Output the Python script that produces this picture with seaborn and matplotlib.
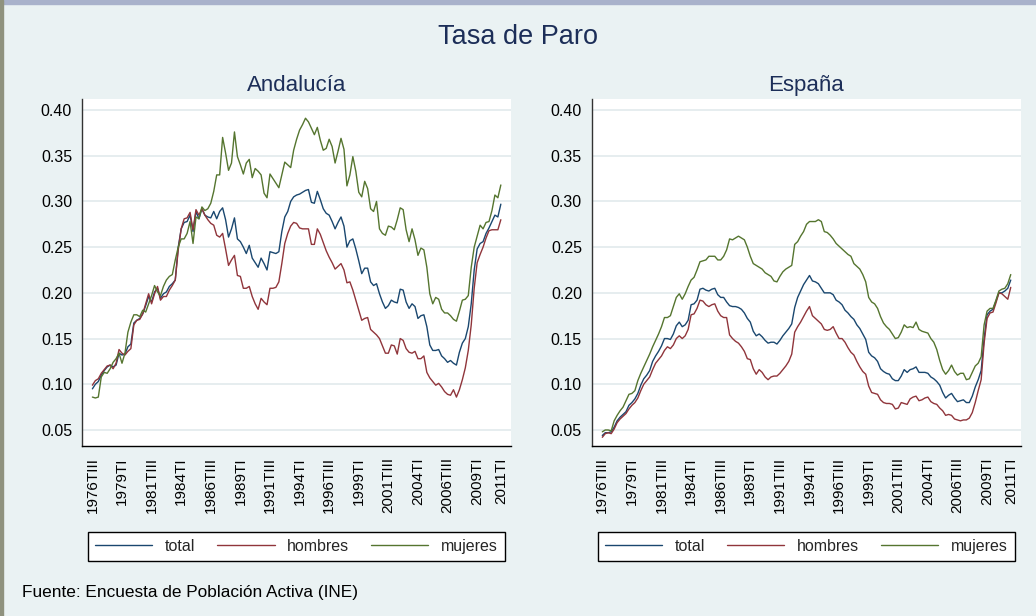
import numpy as np
import pandas as pd
import seaborn as sns
import matplotlib
matplotlib.use("Agg")
import matplotlib.pyplot as plt
from matplotlib.lines import Line2D
from matplotlib.patches import Rectangle
from matplotlib.ticker import FormatStrFormatter

# -------------------------------
# Data (tasa de paro trimestral, 1976TIII - 2011TI)
# -------------------------------
periodos = []
for anio in range(1976, 2012):
    for trim in ["TI", "TII", "TIII", "TIV"]:
        periodos.append(f"{anio}{trim}")
periodos = periodos[periodos.index("1976TIII"):periodos.index("2011TI") + 1]

etiquetas = ["1976TIII", "1979TI", "1981TIII", "1984TI", "1986TIII", "1989TI",
             "1991TIII", "1994TI", "1996TIII", "1999TI", "2001TIII", "2004TI",
             "2006TIII", "2009TI", "2011TI"]

series = ["total", "hombres", "mujeres"]

and_total = [
    0.095, 0.100, 0.103, 0.110, 0.115, 0.119, 0.121, 0.119, 0.121, 0.134,
    0.132, 0.133, 0.141, 0.144, 0.167, 0.170, 0.172, 0.177, 0.186, 0.196,
    0.190, 0.201, 0.205, 0.194, 0.199, 0.201, 0.207, 0.210, 0.214, 0.250,
    0.270, 0.277, 0.278, 0.285, 0.267, 0.289, 0.281, 0.292, 0.285, 0.283,
    0.282, 0.289, 0.281, 0.289, 0.293, 0.280, 0.261, 0.270, 0.282, 0.259,
    0.256, 0.250, 0.243, 0.252, 0.238, 0.233, 0.228, 0.238, 0.232, 0.225,
    0.245, 0.244, 0.243, 0.245, 0.267, 0.283, 0.289, 0.300, 0.305, 0.307,
    0.308, 0.310, 0.312, 0.313, 0.299, 0.298, 0.311, 0.302, 0.292, 0.287,
    0.285, 0.278, 0.270, 0.277, 0.283, 0.273, 0.250, 0.257, 0.259, 0.248,
    0.235, 0.221, 0.227, 0.227, 0.212, 0.208, 0.210, 0.199, 0.190, 0.183,
    0.186, 0.192, 0.190, 0.189, 0.204, 0.203, 0.190, 0.183, 0.188, 0.185,
    0.172, 0.175, 0.176, 0.163, 0.143, 0.137, 0.137, 0.138, 0.131, 0.128,
    0.124, 0.126, 0.123, 0.121, 0.135, 0.145, 0.150, 0.163, 0.188, 0.225,
    0.248, 0.254, 0.256, 0.265, 0.271, 0.278, 0.285, 0.283, 0.297]

and_hombres = [
    0.099, 0.104, 0.106, 0.112, 0.116, 0.120, 0.121, 0.117, 0.123, 0.138,
    0.134, 0.132, 0.136, 0.139, 0.165, 0.170, 0.171, 0.177, 0.188, 0.199,
    0.188, 0.199, 0.207, 0.192, 0.196, 0.196, 0.203, 0.208, 0.214, 0.247,
    0.270, 0.281, 0.282, 0.288, 0.269, 0.291, 0.285, 0.292, 0.285, 0.280,
    0.276, 0.274, 0.263, 0.261, 0.265, 0.248, 0.230, 0.236, 0.241, 0.219,
    0.218, 0.205, 0.205, 0.207, 0.196, 0.188, 0.182, 0.194, 0.190, 0.187,
    0.205, 0.205, 0.206, 0.212, 0.232, 0.254, 0.265, 0.273, 0.277, 0.276,
    0.271, 0.270, 0.270, 0.270, 0.253, 0.253, 0.270, 0.264, 0.255, 0.246,
    0.239, 0.233, 0.226, 0.229, 0.232, 0.225, 0.211, 0.212, 0.203, 0.192,
    0.181, 0.170, 0.172, 0.173, 0.160, 0.157, 0.154, 0.150, 0.142, 0.134,
    0.134, 0.143, 0.142, 0.133, 0.150, 0.148, 0.139, 0.135, 0.134, 0.136,
    0.128, 0.128, 0.131, 0.113, 0.107, 0.103, 0.099, 0.101, 0.097, 0.092,
    0.089, 0.088, 0.094, 0.086, 0.094, 0.105, 0.118, 0.137, 0.165, 0.205,
    0.233, 0.242, 0.250, 0.260, 0.268, 0.269, 0.269, 0.269, 0.280]

and_mujeres = [
    0.086, 0.085, 0.086, 0.108, 0.113, 0.112, 0.117, 0.124, 0.128, 0.134,
    0.123, 0.134, 0.157, 0.168, 0.176, 0.176, 0.174, 0.181, 0.179, 0.188,
    0.197, 0.208, 0.201, 0.197, 0.207, 0.214, 0.218, 0.220, 0.236, 0.250,
    0.259, 0.259, 0.265, 0.278, 0.254, 0.283, 0.281, 0.294, 0.290, 0.292,
    0.298, 0.311, 0.329, 0.329, 0.370, 0.353, 0.334, 0.342, 0.376, 0.349,
    0.340, 0.330, 0.342, 0.346, 0.326, 0.336, 0.333, 0.329, 0.309, 0.304,
    0.330, 0.325, 0.320, 0.315, 0.329, 0.343, 0.340, 0.337, 0.356, 0.368,
    0.378, 0.384, 0.391, 0.387, 0.380, 0.373, 0.381, 0.367, 0.356, 0.358,
    0.368, 0.360, 0.342, 0.355, 0.369, 0.357, 0.317, 0.329, 0.349, 0.333,
    0.310, 0.305, 0.322, 0.314, 0.292, 0.289, 0.300, 0.270, 0.265, 0.263,
    0.273, 0.272, 0.269, 0.280, 0.293, 0.291, 0.269, 0.256, 0.270, 0.258,
    0.241, 0.249, 0.247, 0.228, 0.199, 0.188, 0.195, 0.193, 0.182, 0.178,
    0.178, 0.175, 0.171, 0.169, 0.180, 0.192, 0.193, 0.197, 0.228, 0.250,
    0.262, 0.274, 0.270, 0.277, 0.278, 0.290, 0.307, 0.304, 0.318]

esp_total = [
    0.044, 0.047, 0.047, 0.048, 0.053, 0.060, 0.064, 0.067, 0.070, 0.077,
    0.080, 0.084, 0.090, 0.099, 0.106, 0.110, 0.115, 0.125, 0.131, 0.136,
    0.142, 0.150, 0.150, 0.149, 0.155, 0.164, 0.168, 0.163, 0.165, 0.170,
    0.187, 0.188, 0.192, 0.204, 0.205, 0.203, 0.202, 0.204, 0.205, 0.198,
    0.195, 0.195, 0.190, 0.186, 0.185, 0.185, 0.184, 0.182, 0.178, 0.172,
    0.168, 0.158, 0.153, 0.155, 0.152, 0.148, 0.145, 0.146, 0.146, 0.144,
    0.148, 0.153, 0.157, 0.161, 0.166, 0.184, 0.195, 0.202, 0.209, 0.214,
    0.219, 0.213, 0.212, 0.210, 0.205, 0.200, 0.200, 0.200, 0.198, 0.192,
    0.190, 0.187, 0.181, 0.178, 0.174, 0.171, 0.165, 0.161, 0.155, 0.149,
    0.135, 0.131, 0.129, 0.125, 0.117, 0.114, 0.112, 0.111, 0.106, 0.104,
    0.104, 0.109, 0.116, 0.113, 0.116, 0.117, 0.119, 0.113, 0.113, 0.113,
    0.112, 0.108, 0.106, 0.103, 0.099, 0.091, 0.085, 0.088, 0.090, 0.085,
    0.081, 0.082, 0.083, 0.080, 0.080, 0.087, 0.097, 0.105, 0.115, 0.150,
    0.176, 0.180, 0.182, 0.191, 0.200, 0.200, 0.202, 0.205, 0.214]

esp_hombres = [
    0.042, 0.046, 0.047, 0.046, 0.051, 0.058, 0.062, 0.065, 0.068, 0.073,
    0.077, 0.080, 0.085, 0.093, 0.100, 0.104, 0.108, 0.116, 0.123, 0.127,
    0.131, 0.137, 0.141, 0.139, 0.143, 0.150, 0.153, 0.150, 0.153, 0.160,
    0.176, 0.177, 0.183, 0.192, 0.191, 0.187, 0.185, 0.187, 0.188, 0.180,
    0.175, 0.173, 0.173, 0.154, 0.150, 0.147, 0.145, 0.141, 0.136, 0.128,
    0.127, 0.117, 0.111, 0.116, 0.113, 0.108, 0.105, 0.108, 0.109, 0.109,
    0.112, 0.116, 0.120, 0.125, 0.133, 0.157, 0.163, 0.168, 0.174, 0.180,
    0.185, 0.175, 0.172, 0.169, 0.166, 0.160, 0.159, 0.160, 0.163, 0.156,
    0.150, 0.150, 0.146, 0.140, 0.135, 0.132, 0.125, 0.119, 0.114, 0.111,
    0.098, 0.091, 0.090, 0.089, 0.083, 0.080, 0.079, 0.079, 0.078, 0.073,
    0.074, 0.080, 0.079, 0.078, 0.084, 0.086, 0.087, 0.082, 0.083, 0.085,
    0.086, 0.081, 0.079, 0.078, 0.074, 0.071, 0.066, 0.067, 0.066, 0.062,
    0.061, 0.060, 0.061, 0.061, 0.063, 0.069, 0.080, 0.093, 0.105, 0.145,
    0.172, 0.178, 0.179, 0.189, 0.200, 0.199, 0.196, 0.193, 0.206]

esp_mujeres = [
    0.048, 0.050, 0.050, 0.049, 0.060, 0.066, 0.071, 0.075, 0.082, 0.089,
    0.090, 0.093, 0.104, 0.112, 0.119, 0.126, 0.133, 0.141, 0.148, 0.155,
    0.163, 0.173, 0.173, 0.175, 0.185, 0.195, 0.199, 0.193, 0.199, 0.207,
    0.214, 0.217, 0.225, 0.234, 0.235, 0.236, 0.240, 0.240, 0.240, 0.236,
    0.236, 0.240, 0.247, 0.259, 0.258, 0.260, 0.262, 0.260, 0.258, 0.250,
    0.240, 0.232, 0.230, 0.228, 0.226, 0.222, 0.220, 0.218, 0.213, 0.212,
    0.218, 0.223, 0.226, 0.228, 0.230, 0.253, 0.256, 0.262, 0.267, 0.275,
    0.278, 0.278, 0.278, 0.280, 0.278, 0.267, 0.266, 0.263, 0.259, 0.254,
    0.251, 0.248, 0.245, 0.242, 0.240, 0.232, 0.229, 0.226, 0.220, 0.212,
    0.195, 0.190, 0.188, 0.183, 0.174, 0.167, 0.163, 0.160, 0.155, 0.150,
    0.151, 0.157, 0.165, 0.162, 0.163, 0.162, 0.168, 0.160, 0.158, 0.157,
    0.156, 0.150, 0.146, 0.138, 0.126, 0.116, 0.111, 0.115, 0.121, 0.114,
    0.110, 0.112, 0.112, 0.105, 0.106, 0.113, 0.120, 0.123, 0.130, 0.165,
    0.180, 0.183, 0.183, 0.192, 0.202, 0.204, 0.205, 0.210, 0.220]

paneles = {
    "Andalucía": [and_total, and_hombres, and_mujeres],
    "España": [esp_total, esp_hombres, esp_mujeres],
}

# -------------------------------
# Style (Stata s2color look)
# -------------------------------
colores = {"total": "#1A476F", "hombres": "#90353B", "mujeres": "#55752F"}
fondo = "#EAF2F3"
azul_titulo = "#1C2E58"

sns.set_theme(style="white")
plt.rcParams["font.family"] = ["Liberation Sans", "DejaVu Sans"]

fig = plt.figure(figsize=(10.36, 6.16), dpi=100, facecolor=fondo)
fig.patches.append(Rectangle((0, 1 - 4 / 616), 1, 4 / 616, transform=fig.transFigure,
                             color="#A9B2CB", zorder=0))
fig.patches.append(Rectangle((0, 0), 3 / 1036, 1, transform=fig.transFigure,
                             color="#8F927E", zorder=0))

fig.text(0.5, 1 - 37 / 616, "Tasa de Paro", ha="center", va="center",
         fontsize=19.5, color=azul_titulo)

posiciones = [0.0789, 0.5711]
x = np.arange(len(periodos))
ticks = [periodos.index(e) for e in etiquetas]

for left, (nombre, valores) in zip(posiciones, paneles.items()):
    ax = fig.add_axes([left, 0.2760, 0.4141, 0.5628])
    df = pd.DataFrame({
        "idx": np.tile(x, 3),
        "tasa": np.concatenate(valores),
        "serie": np.repeat(series, len(x)),
    })
    sns.lineplot(data=df, x="idx", y="tasa", hue="serie", palette=colores,
                 estimator=None, linewidth=1.0, ax=ax, legend=False)

    ax.set_facecolor("white")
    ax.set_xlim(-3.6, 141.35)
    ax.set_ylim(0.0325, 0.4117)
    ax.set_yticks([0.05, 0.10, 0.15, 0.20, 0.25, 0.30, 0.35, 0.40])
    ax.yaxis.set_major_formatter(FormatStrFormatter("%.2f"))
    ax.set_xticks(ticks)
    ax.set_xticklabels(etiquetas, rotation=90)
    ax.set_xlabel("")
    ax.set_ylabel("")

    ax.yaxis.grid(True, color="#E4ECEE", linewidth=1.3)
    ax.xaxis.grid(False)
    ax.set_axisbelow(True)

    for s in ["top", "right"]:
        ax.spines[s].set_visible(False)
    ax.spines["left"].set_color("#333333")
    ax.spines["bottom"].set_color("black")
    ax.spines["left"].set_linewidth(1.0)
    ax.spines["bottom"].set_linewidth(1.0)
    ax.tick_params(axis="both", direction="out", length=4, width=1,
                   color="#333333", labelsize=11, pad=3, labelcolor="black")
    ax.tick_params(axis="y", labelsize=11.5)
    ax.tick_params(axis="x", pad=4)

    ax.text(0.5, 1.041, nombre, transform=ax.transAxes, ha="center",
            va="center", fontsize=16, color=azul_titulo)

    handles = [Line2D([], [], color=colores[s], linewidth=1.0) for s in series]
    leg = ax.legend(handles, series, loc="upper left",
                    bbox_to_anchor=(0.014, -0.247, 0.973, 0), mode="expand",
                    ncol=3, frameon=True, fancybox=False, edgecolor="black",
                    facecolor="white", framealpha=1, fontsize=11.5,
                    handlelength=3.6, handletextpad=0.8, borderpad=0.45,
                    borderaxespad=0)
    leg.get_frame().set_linewidth(1.0)

fig.text(22 / 1036, 1 - 593 / 616, "Fuente: Encuesta de Población Activa (INE)",
         ha="left", va="center", fontsize=12.4, color="black")

fig.savefig("out.png", dpi=100, facecolor=fig.get_facecolor())
